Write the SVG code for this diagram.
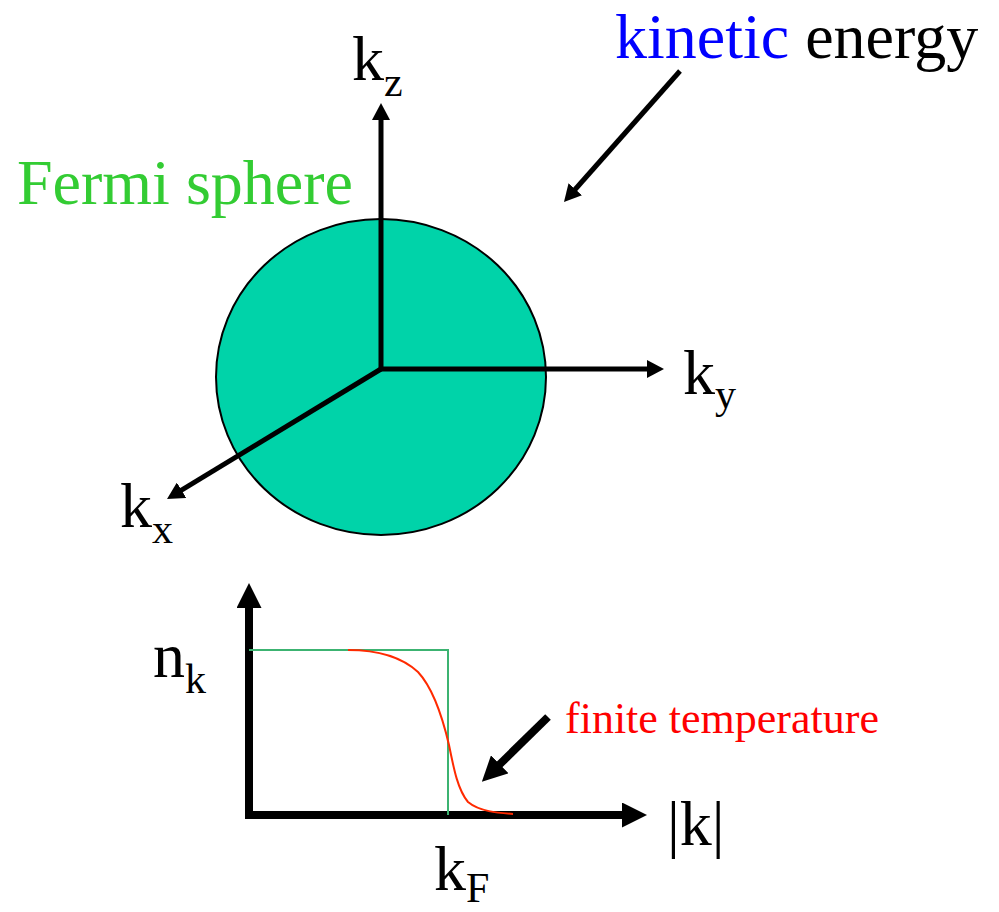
<svg xmlns="http://www.w3.org/2000/svg" width="999" height="912" viewBox="0 0 999 912">
<style>
.t { font-family: 'Liberation Serif', 'Times New Roman', serif; font-size: 64px; fill: #000; }
.sub { font-size: 42px; }
.ax { stroke: #000; stroke-width: 5; fill: none; }
.axb { stroke: #000; stroke-width: 8; fill: none; }
.step { stroke: #3CB371; stroke-width: 2; fill: none; }
.fermi { stroke: #FF2A00; stroke-width: 2; fill: none; }
</style>
<defs>
<marker id="ah" markerUnits="userSpaceOnUse" markerWidth="17" markerHeight="18" viewBox="0 0 17 18" refX="1" refY="9" orient="auto">
<path d="M0,0 L17,9 L0,18 Z" fill="#000"/>
</marker>
<marker id="ahb" markerUnits="userSpaceOnUse" markerWidth="25" markerHeight="25" viewBox="0 0 25 25" refX="1" refY="12.5" orient="auto">
<path d="M0,0 L25,12.5 L0,25 Z" fill="#000"/>
</marker>
</defs>
<rect width="999" height="912" fill="#fff"/>
<g id="sphere">
<ellipse cx="381" cy="377" rx="165" ry="158" fill="#00D3A9" stroke="#000" stroke-width="2"/>
</g>
<g id="connectors">
<line class="ax" x1="381" y1="371" x2="381" y2="119" marker-end="url(#ah)"/>
<line class="ax" x1="379" y1="369" x2="648" y2="369" marker-end="url(#ah)"/>
<line class="ax" x1="381" y1="369" x2="180.7" y2="490.7" marker-end="url(#ah)"/>
<line class="ax" x1="680" y1="71" x2="574.6" y2="190" marker-end="url(#ah)"/>
<line class="axb" x1="249" y1="819" x2="249" y2="607" marker-end="url(#ahb)"/>
<line class="axb" x1="245" y1="815" x2="623" y2="815" marker-end="url(#ahb)"/>
<line class="axb" x1="548" y1="717" x2="499" y2="765" marker-end="url(#ahb)"/>
</g>
<g id="curves">
<path class="step" d="M249,650 L448,650 L448,815"/>
<path class="fermi" d="M348,650 C385,650 405,660 418,672 C432,687 442,715 449,745 C454,770 458,790 468,802 C480,812 500,813 513,814"/>
</g>
<g id="fermi-label"><text class="t" x="17" y="204" style="fill:#33CC33">Fermi sphere</text></g>
<g id="kinetic-label"><text class="t" x="615" y="58"><tspan style="fill:#0000FF">kinetic</tspan> energy</text></g>
<g id="kz-label"><text class="t" x="352" y="80">k<tspan class="sub" dy="16">z</tspan></text></g>
<g id="ky-label"><text class="t" x="683" y="394">k<tspan class="sub" dy="14">y</tspan></text></g>
<g id="kx-label"><text class="t" x="120" y="527">k<tspan class="sub" dy="16">x</tspan></text></g>
<g id="nk-label"><text class="t" x="153" y="677">n<tspan class="sub" dy="16">k</tspan></text></g>
<g id="kF-label"><text class="t" x="434" y="890">k<tspan class="sub" dy="12">F</tspan></text></g>
<g id="absk-label"><text class="t" x="667" y="845">|k|</text></g>
<g id="finite-label"><text class="t" x="565" y="733" style="font-size:44px;fill:#FF0000">finite temperature</text></g>
</svg>
